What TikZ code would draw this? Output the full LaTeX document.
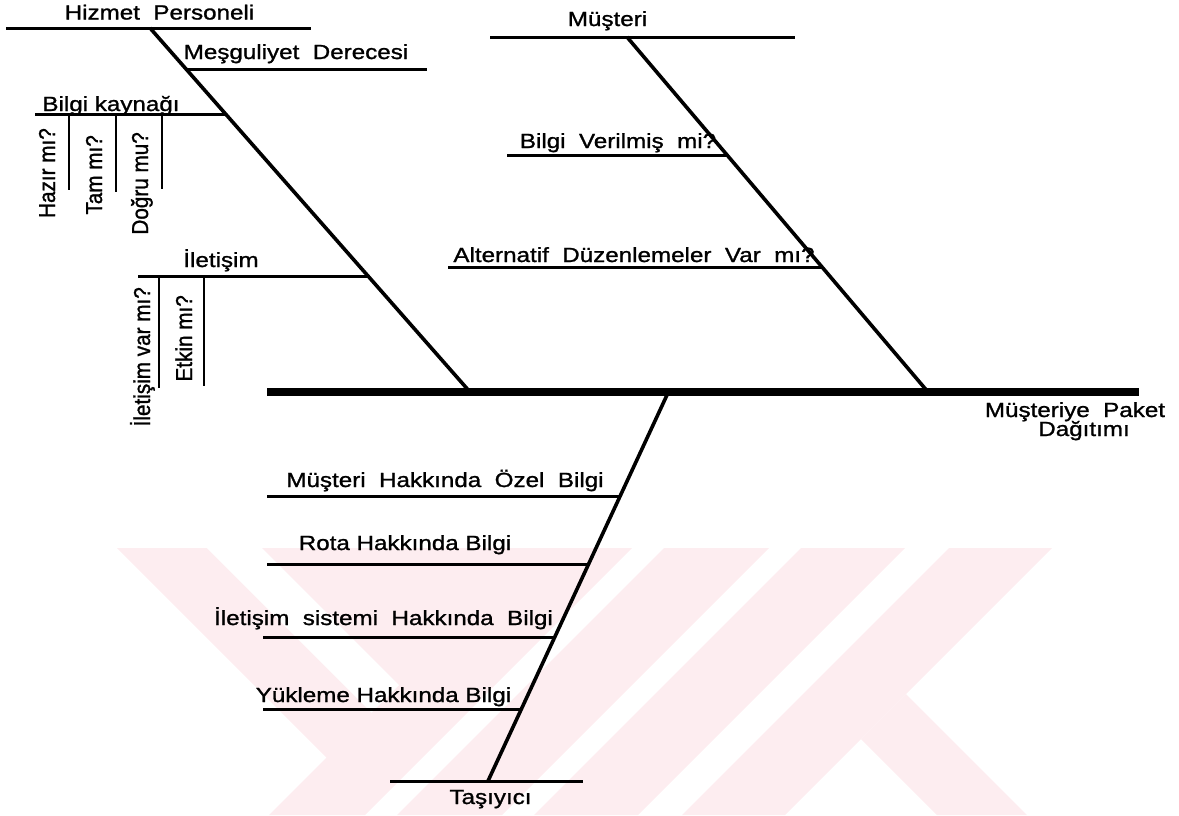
\documentclass[tikz,border=0pt]{standalone}
\usepackage{fontspec}
\newfontfamily\lblfont[FakeStretch=1.18,FakeBold=1.2]{Liberation Sans}
\newfontfamily\vlblfont[FakeStretch=0.9,FakeBold=1.2]{Liberation Sans}
\definecolor{wm}{RGB}{253,237,240}
\tikzset{
  spine/.style={line width=8pt},
  bone/.style={line width=3.6pt},
  rib/.style={line width=3pt},
  tickline/.style={line width=2.8pt},
  lbl/.style={inner sep=0pt, font=\lblfont\fontsize{20.5}{24}\selectfont, anchor=base},
  vlbl/.style={inner sep=0pt, font=\vlblfont\fontsize{23}{26}\selectfont, rotate=90, anchor=base east},
  wmark/.style={fill=wm, draw=none}
}
\begin{document}
\begin{tikzpicture}[x=1pt,y=1pt]
\useasboundingbox (0,0) rectangle (1179,-815);
% watermark
\begin{scope}
\clip (0,-548) rectangle (1179,-815);
\fill[wmark] (117,-548) -- (632,-548) -- (365,-815) -- (269,-815) -- (326.5,-757.5) -- cycle;
\fill[white] (207,-548) -- (262,-548) -- (399,-685) -- (371.5,-712.5) -- cycle;
\fill[wmark] (664,-548) -- (769,-548) -- (502,-815) -- (397,-815) -- cycle;
\fill[wmark] (801,-548) -- (905,-548) -- (638,-815) -- (534,-815) -- cycle;
\fill[wmark] (949,-548) -- (1052,-548) -- (785,-815) -- (682,-815) -- cycle;
\fill[wmark] (906,-694) -- (1027,-815) -- (937,-815) -- (861,-739) -- cycle;
\end{scope}
% spine
\coordinate (spL) at (267,-392);
\coordinate (spR) at (1139,-392);
\draw[spine] (spL) -- (spR);
% Hizmet Personeli bone
\coordinate (hpL) at (6,-28);
\coordinate (hpR) at (311,-28);
\coordinate (hpJ) at (150,-28);
\coordinate (hpS) at (470,-392);
\draw[rib] (hpL) -- (hpR);
\draw[bone] (hpJ) -- (hpS);
\coordinate (mdJ) at (186,-69);
\coordinate (mdR) at (427,-69);
\draw[rib] (mdJ) -- (mdR);
\coordinate (bkL) at (35,-114);
\coordinate (bkJ) at (225.6,-114);
\draw[rib] (bkL) -- (bkJ);
\coordinate (t1a) at (69,-114);  \coordinate (t1b) at (69,-190);
\coordinate (t2a) at (116,-114); \coordinate (t2b) at (116,-192);
\coordinate (t3a) at (162,-114); \coordinate (t3b) at (162,-189);
\draw[tickline] (t1a) -- (t1b);
\draw[tickline] (t2a) -- (t2b);
\draw[tickline] (t3a) -- (t3b);
\coordinate (ilL) at (138,-276);
\coordinate (ilJ) at (368,-276);
\draw[rib] (ilL) -- (ilJ);
\coordinate (t4a) at (159,-276); \coordinate (t4b) at (159,-388);
\coordinate (t5a) at (204,-276); \coordinate (t5b) at (204,-386);
\draw[tickline] (t4a) -- (t4b);
\draw[tickline] (t5a) -- (t5b);
% Musteri bone
\coordinate (muL) at (490,-37);
\coordinate (muR) at (795,-37);
\coordinate (muJ) at (627,-37);
\coordinate (muS) at (928,-392);
\draw[rib] (muL) -- (muR);
\draw[bone] (muJ) -- (muS);
\coordinate (bvL) at (507,-155);
\coordinate (bvJ) at (727,-155);
\draw[rib] (bvL) -- (bvJ);
\coordinate (adL) at (448,-267);
\coordinate (adJ) at (822,-267);
\draw[rib] (adL) -- (adJ);
% Tasiyici bone
\coordinate (taS) at (667,-395);
\coordinate (taJ) at (488,-781);
\coordinate (taL) at (390,-781);
\coordinate (taR) at (583,-781);
\draw[rib] (taL) -- (taR);
\draw[bone] (taS) -- (taJ);
\coordinate (r1L) at (267,-496); \coordinate (r1J) at (621,-496);
\coordinate (r2L) at (267,-564); \coordinate (r2J) at (589,-564);
\coordinate (r3L) at (263,-637); \coordinate (r3J) at (555,-637);
\coordinate (r4L) at (263,-709); \coordinate (r4J) at (522,-709);
\draw[rib] (r1L) -- (r1J);
\draw[rib] (r2L) -- (r2J);
\draw[rib] (r3L) -- (r3J);
\draw[rib] (r4L) -- (r4J);
% labels
\node[lbl] (hp) at (159.5,-19.5) {Hizmet~~Personeli};
\node[lbl] (md) at (296,-59) {Meşguliyet~~Derecesi};
\node[lbl] (bk) at (111,-111) {Bilgi kaynağı};
\node[lbl] (il) at (221,-267) {İletişim};
\node[vlbl] (hz) at (55,-128) {Hazır mı?};
\node[vlbl] (tm) at (102,-135) {Tam mı?};
\node[vlbl] (dg) at (148,-132) {Doğru mu?};
\node[vlbl] (iv) at (150,-287) {İletişim var mı?};
\node[vlbl] (et) at (192,-295) {Etkin mı?};
\node[lbl] (mu) at (607.5,-26) {Müşteri};
\node[lbl] (bv) at (618,-148) {Bilgi~~Verilmiş~~mi?};
\node[lbl] (ad) at (634,-262) {Alternatif~~Düzenlemeler~~Var~~mı?};
\node[lbl] (mp) at (1075,-417) {Müşteriye~~Paket};
\node[lbl] (dt) at (1084,-436) {Dağıtımı};
\node[lbl] (r1) at (445,-487) {Müşteri~~Hakkında~~Özel~~Bilgi};
\node[lbl] (r2) at (405,-550) {Rota Hakkında Bilgi};
\node[lbl] (r3) at (383.5,-625) {İletişim~~sistemi~~Hakkında~~Bilgi};
\node[lbl] (r4) at (383.5,-702) {Yükleme Hakkında Bilgi};
\node[lbl] (ta) at (490.5,-804) {Taşıyıcı};
\end{tikzpicture}
\end{document}
